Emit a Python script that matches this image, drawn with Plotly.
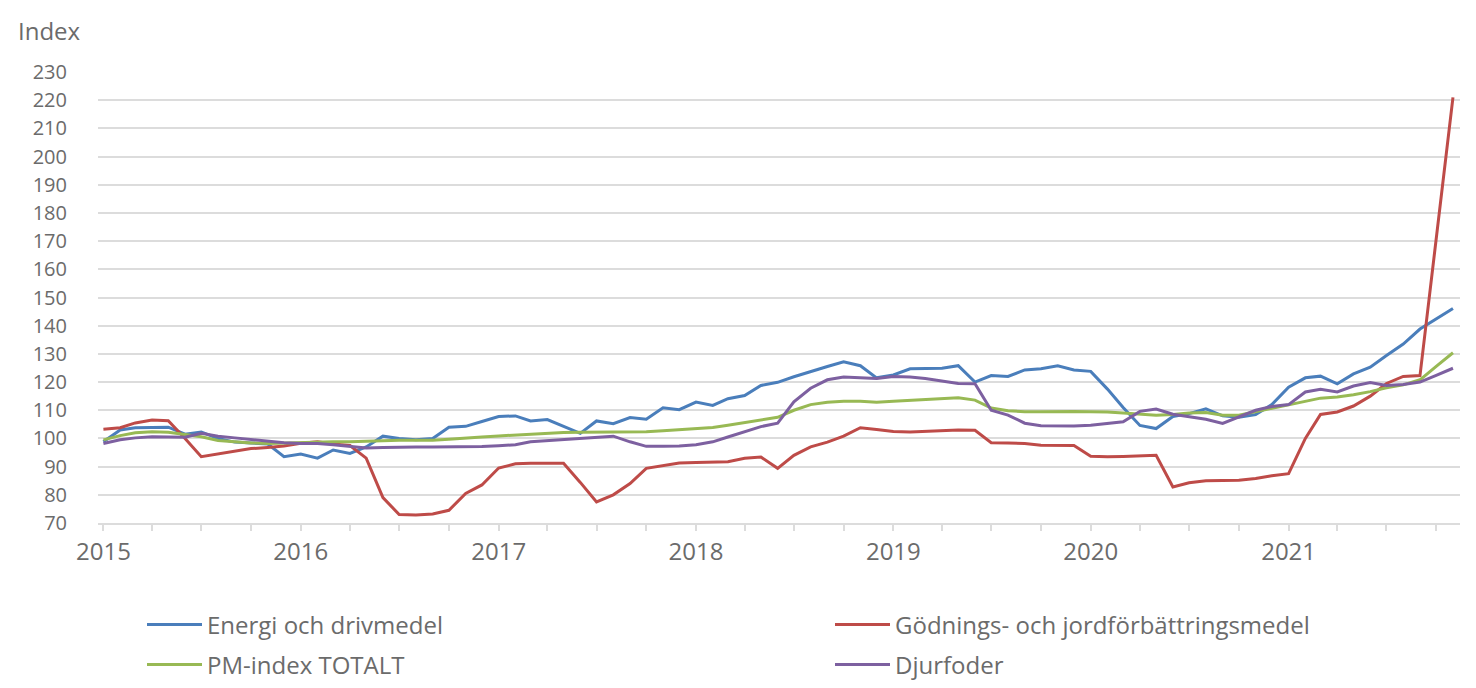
import pandas as pd
import plotly.graph_objects as go

months = pd.date_range("2015-01-01", periods=83, freq="MS")

energi = [98.8, 103, 103.8, 103.8, 104, 101.5, 102.3, 100, 98.7, 98.4, 98, 93.5,
          94.5, 93, 95.9, 94.7, 97, 100.8, 100, 99.5, 100, 104, 104.3, 106,
          107.8, 108, 106.2, 106.7, 104.3, 101.8, 106.2, 105.2, 107.4, 106.8, 110.9, 110.2,
          112.9, 111.7, 114.1, 115.2, 118.8, 119.9, 121.9, 123.8, 125.5, 127.2, 125.8, 121.5,
          122.5, 124.7, 124.7, 124.9, 125.8, 120, 122.3, 122, 124.3, 124.7, 125.8, 124.3,
          123.8, 117.5, 111, 104.6, 103.5, 107.8, 108.8, 110.5, 108, 107.5, 108.5, 112,
          118.2, 121.5, 122.1, 119.4, 122.9, 125.3, 129.4, 133.5, 138.8, 142.4, 146.1]

godning = [103.3, 103.8, 105.5, 106.5, 106.3, 100, 93.5, 94.4, 95.5, 96.4, 96.8, 97.3,
           98.3, 98.8, 98, 97.5, 93, 79, 73, 72.8, 73.2, 74.5, 80.5, 83.5,
           89.5, 91, 91.2, 91.2, 91.2, 84.4, 77.5, 80, 84, 89.4, 90.5, 91.3,
           91.5, 91.6, 91.7, 93, 93.4, 89.4, 94, 97, 98.7, 100.8, 103.8, 103.2,
           102.5, 102.3, 102.5, 102.7, 103, 102.9, 98.5, 98.4, 98.2, 97.6, 97.6, 97.5,
           93.7, 93.5, 93.6, 93.7, 94, 82.8, 84.3, 85, 85, 85.2, 85.8, 86.8,
           87.5, 100, 108.5, 109.4, 111.5, 115, 119.5, 122, 122.3, 170, 221]

pm_total = [99.5, 101, 102, 102.4, 102.2, 101.5, 100.6, 99.3, 98.8, 98.4, 98.2, 98.4,
            98.5, 98.7, 98.8, 98.8, 99, 99.3, 99.4, 99.4, 99.4, 99.7, 100, 100.5,
            100.9, 101.2, 101.6, 102, 102.1, 102.2, 102.2, 102.2, 102.3, 102.4, 102.7, 103.1,
            103.5, 103.9, 104.7, 105.6, 106.5, 107.5, 110, 112, 112.8, 113.2, 113.2, 112.8,
            113.2, 113.5, 113.8, 114.1, 114.4, 113.6, 110.8, 109.8, 109.5, 109.5, 109.6, 109.6,
            109.5, 109.4, 109, 108.6, 108.2, 108.5, 109, 109.2, 108.2, 108.2, 109.5, 110.7,
            112, 113.3, 114.3, 114.7, 115.5, 116.6, 118, 119, 120.8, 125.6, 130.4]

djurfoder = [98.2, 99.5, 100.2, 100.6, 100.5, 100.4, 101.8, 100.8, 100.2, 99.6, 99.1, 98.5,
             98.2, 98.2, 97.8, 97.1, 96.6, 96.8, 97, 97, 97, 97, 97, 97.1,
             97.4, 97.8, 98.8, 99.2, 99.6, 100.2, 100.5, 100.8, 98.8, 97.2, 97.2, 97.3,
             97.8, 98.8, 100.5, 102.4, 104.2, 105.4, 113, 117.8, 120.8, 121.8, 121.6, 121.3,
             122, 121.8, 121.3, 120.4, 119.5, 119.4, 110, 108.3, 105.4, 104.5, 104.4, 104.4,
             104.7, 105.2, 105.9, 109.6, 110.4, 108.6, 107.8, 106.8, 105.3, 107.5, 110, 111.3,
             112, 116.5, 117.4, 116.5, 118.6, 119.8, 118.8, 119.1, 120, 122.4, 124.9]

series = [
    ("Energi och drivmedel", energi, "#4A7EBB", "legend"),
    ("Gödnings- och jordförbättringsmedel", godning, "#BE4B48", "legend2"),
    ("PM-index TOTALT", pm_total, "#98B954", "legend3"),
    ("Djurfoder", djurfoder, "#7D60A0", "legend4"),
]

year_ticks = pd.date_range("2015-01-01", "2021-01-01", freq="YS")
year_labels = [str(d.year) for d in year_ticks]

text_color = "#6b6b6b"
grid_color = "#dcdcdc"
FS = 24
W, H = 1476, 688
OFF = 8  # page offset of the figure (default body margin)

# plot area in page pixels: x 98..1460, y 72..523
PL, PR, PT, PB = 98 - OFF, 1460 - OFF, 72 - OFF, 523 - OFF
PW, PH = PR - PL, PB - PT

fig = go.Figure()
for name, vals, color, lg in series:
    fig.add_trace(go.Scatter(x=months, y=vals, name=name, mode="lines",
                             line=dict(color=color, width=3), legend=lg))

def leg(xpx, ypx):
    return dict(orientation="h", xref="container", yref="container",
                x=(xpx - OFF) / W, xanchor="left", y=1 - (ypx - OFF) / H, yanchor="middle",
                font=dict(size=FS, color=text_color), itemwidth=55,
                bgcolor="rgba(0,0,0,0)")

fig.update_layout(
    width=W, height=H,
    margin=dict(l=PL, r=W - PR, t=PT, b=H - PB),
    paper_bgcolor="white", plot_bgcolor="white",
    font=dict(family="Open Sans", size=FS, color=text_color),
    showlegend=True,
    legend=leg(142, 625),
    legend2=leg(830, 625),
    legend3=leg(142, 665),
    legend4=leg(830, 665),
    annotations=[dict(text="Index", xref="paper", yref="paper",
                      x=(16 - OFF - PL) / PW, y=(PB - (30 - OFF)) / PH,
                      xanchor="left", yanchor="middle",
                      showarrow=False, font=dict(size=FS, color=text_color))],
)

fig.update_xaxes(
    type="date",
    range=["2014-12-22", "2021-11-14"],
    tickvals=year_ticks, ticktext=year_labels,
    ticks="outside", ticklen=6, tickcolor=grid_color, tickwidth=1.5,
    minor=dict(dtick="M3", tick0="2015-01-01", ticks="outside", ticklen=6,
               tickcolor=grid_color, tickwidth=1.5, showgrid=False),
    showline=True, linecolor=grid_color, linewidth=1.5,
    showgrid=False, zeroline=False,
    tickfont=dict(size=FS, color=text_color),
)
fig.update_yaxes(
    range=[70, 230], dtick=10, tick0=70,
    showgrid=True, gridcolor=grid_color, gridwidth=1.5,
    zeroline=False, showline=False, ticks="",
    ticklabelstandoff=30,
    tickfont=dict(size=20, color=text_color),
)

fig.write_html("out.html")
